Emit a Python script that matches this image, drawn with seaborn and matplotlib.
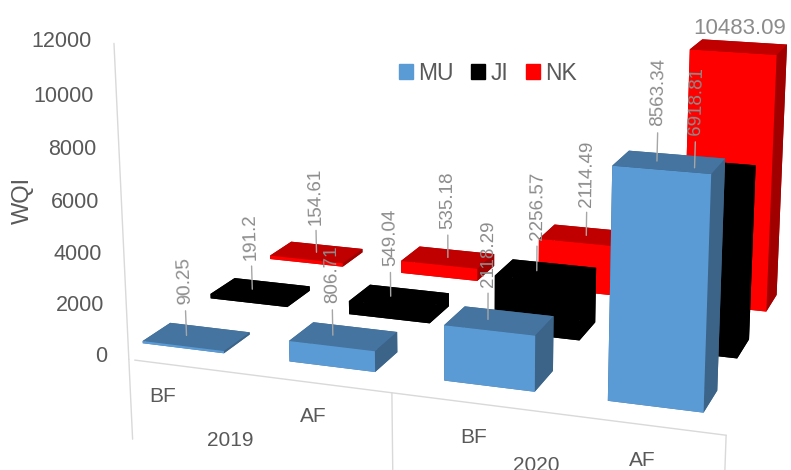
import numpy as np
import pandas as pd
import seaborn as sns
import matplotlib.pyplot as plt
from mpl_toolkits.mplot3d import proj3d

sns.set_theme(style='white')
plt.rcParams['font.family'] = ['Liberation Sans', 'DejaVu Sans']

periods = ['BF', 'AF', 'BF', 'AF']
years = ['2019', '2020']
series = ['MU', 'JI', 'NK']
mu = [90.25, 806.71, 2118.29, 8563.34]
ji = [191.2, 549.04, 2256.57, 6918.81]
nk = [154.61, 535.18, 2114.49, 10483.09]
y_ticks = [0, 2000, 4000, 6000, 8000, 10000, 12000]

# front, top, side colours of each series
colors = {'MU': ('#5b9bd5', '#44749f', '#3b6488'),
          'JI': ('#000000', '#000000', '#000000'),
          'NK': ('#ff0000', '#c00000', '#a00000')}
label_shift = {'MU': -0.07, 'JI': -0.06, 'NK': 0.0}
grey = '#595959'
lab_grey = '#8c8c8c'

df = pd.DataFrame({'period': list(range(4)) * 3,
                   'series': np.repeat(series, 4),
                   'value': mu + ji + nk})

W, H = 791, 470
side = 806
fig = plt.figure(figsize=(W / 100, H / 100), dpi=100)
ax = fig.add_axes([57.5 / W, -116 / H, side / W, side / H], projection='3d', proj_type='persp', focal_length=0.4465)
ax.view_init(elev=14.6, azim=-70.9, roll=0)
ax.set_box_aspect((640, 452, 313))
ax.set_axis_off()
ax.set_xlim(-0.5, 3.5)
ax.set_ylim(-0.5, 2.5)
ax.set_zlim(0, 12000)
ax.computed_zorder = False


def text2d(x, y, z, s, **kw):
    px, py, _ = proj3d.proj_transform(x, y, z, ax.get_proj())
    return ax.text2D(px, py, s, transform=ax.transData, **kw)


def vlabel(x, y, z, s):
    # rotate the label along the projected vertical
    x0, y0, _ = proj3d.proj_transform(x, y, z, ax.get_proj())
    x1, y1, _ = proj3d.proj_transform(x, y, z + 1000, ax.get_proj())
    ang = np.degrees(np.arctan2(y1 - y0, x1 - x0))
    text2d(x, y, z, s, color=lab_grey, fontsize=13.5, rotation=ang, rotation_mode='anchor',
           ha='left', va='center', zorder=100)


# back row first, left to right
for s_i, name in reversed(list(enumerate(series))):
    sub = df[df['series'] == name]
    front, top, sd = colors[name]
    for p, v in zip(sub['period'], sub['value']):
        poly = ax.bar3d(p - 0.28, s_i - 0.195, 0, 0.56, 0.39, v,
                        color=[top, top, front, sd, sd, sd], shade=False, edgecolor='none')
        poly.set_zorder(10 + (2 - s_i) * 10 + p)
        if v > 10000:
            text2d(p, s_i, v + 750, str(v), color=lab_grey, fontsize=16, ha='center', va='center', zorder=100)
            continue
        lx = p + label_shift[name]
        ax.plot([lx, lx], [s_i, s_i], [v, v + 1000], color='#a6a6a6', lw=1, zorder=90)
        vlabel(lx, s_i, v + 1250, str(v))

# axis lines
ax.plot([-0.22, -0.22], [-0.5, -0.5], [0, 12000], color='#d9d9d9', lw=1, zorder=1)
ax.plot([-0.18, 3.47], [-0.5, -0.5], [0, 0], color='#d9d9d9', lw=1, zorder=1)
for xs in [-0.22, 1.5, 3.47]:
    ax.plot([xs, xs], [-0.5, -0.5], [0, -3200], color='#d9d9d9', lw=1, zorder=1)

for t in y_ticks:
    text2d(-0.37, -0.5, t, str(t), ha='right', va='center', fontsize=15.5, color=grey)
for p, lab in enumerate(periods):
    text2d(p, -0.5, -1300, lab, ha='center', va='center', fontsize=15, color=grey)
for x_pos, z_pos, yr in zip([0.45, 2.38], [-2700, -2050], years):
    text2d(x_pos, -0.5, z_pos, yr, ha='center', va='center', fontsize=15, color=grey)

fig.text(23 / W, 1 - 200 / H, 'WQI', rotation=90, fontsize=17, color=grey, ha='center', va='center')

handles = [plt.Rectangle((0, 0), 1, 1, color=colors[n][0]) for n in series]
fig.legend(handles, series, loc='center', bbox_to_anchor=(488 / W, 1 - 73 / H), ncol=3, frameon=False,
           fontsize=16.5, handlelength=0.6, handleheight=0.6, columnspacing=0.75, handletextpad=0.26,
           labelcolor=grey)

fig.savefig('out.png', dpi=100)
